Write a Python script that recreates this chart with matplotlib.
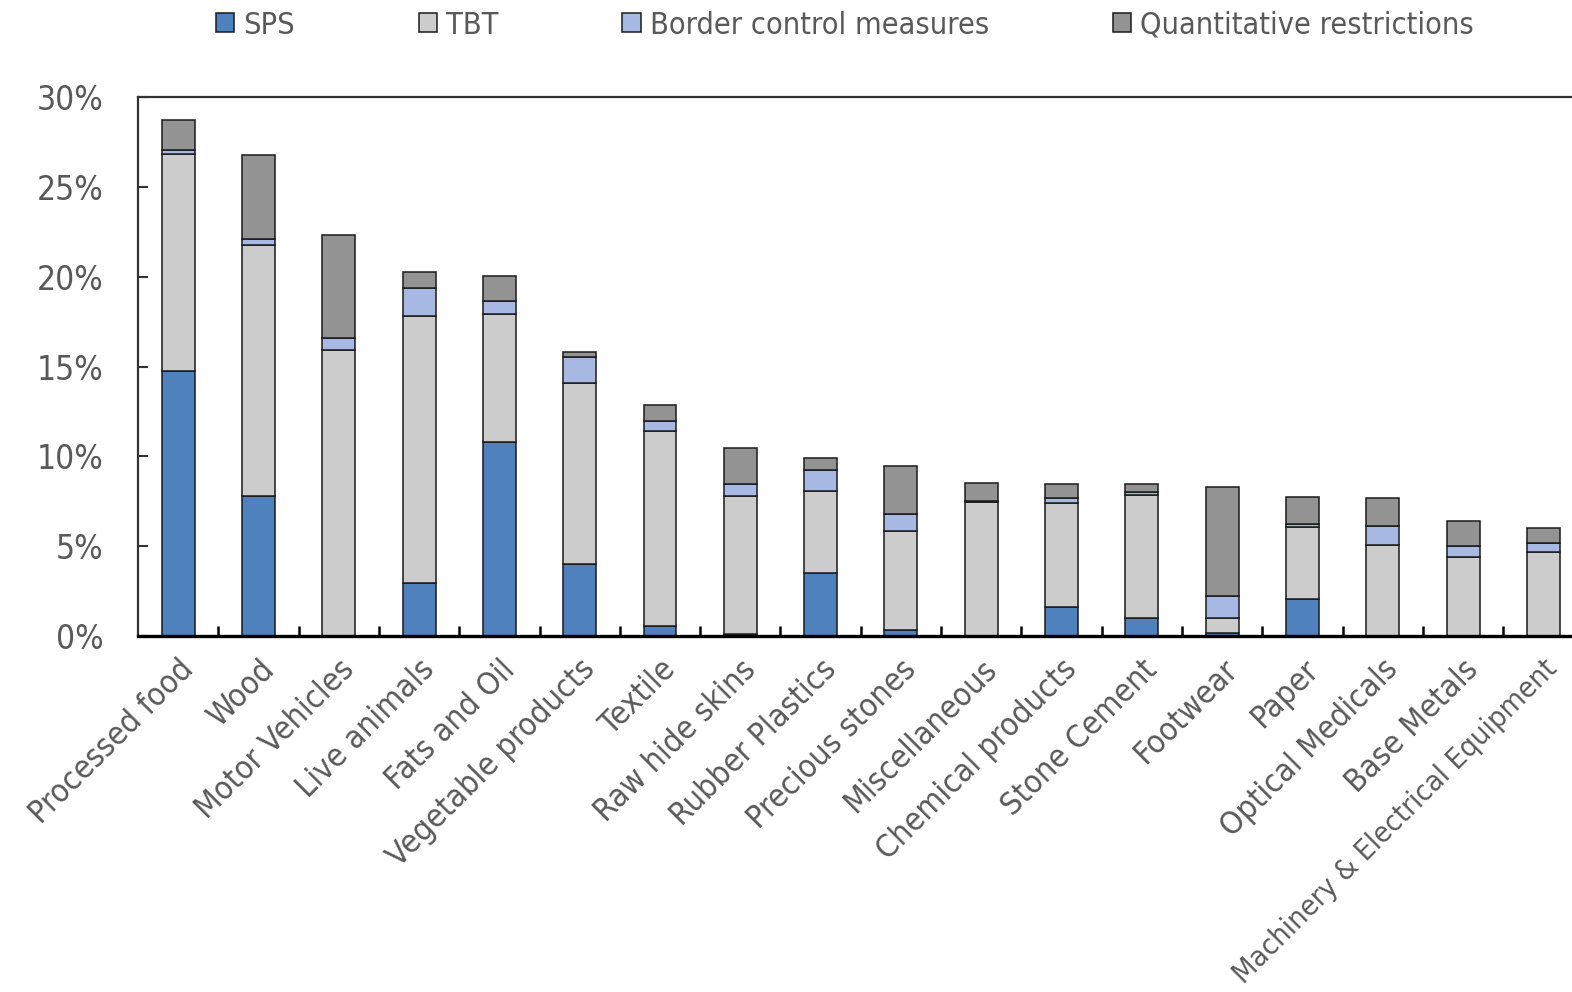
import matplotlib
matplotlib.use("Agg")
import matplotlib.pyplot as plt
import numpy as np

plt.rcParams['font.family'] = ['DejaVu Sans']
plt.rcParams['font.stretch'] = 'condensed'

categories = ["Processed food", "Wood", "Motor Vehicles", "Live animals", "Fats and Oil",
              "Vegetable products", "Textile", "Raw hide skins", "Rubber Plastics",
              "Precious stones", "Miscellaneous", "Chemical products", "Stone Cement",
              "Footwear", "Paper", "Optical Medicals", "Base Metals",
              "Machinery & Electrical Equipment"]

sps = [14.74, 7.82, 0.00, 2.96, 10.77, 4.02, 0.55, 0.10, 3.52, 0.35, 0.00, 1.59, 1.01, 0.18, 2.07, 0.00, 0.00, 0.00]
tbt = [12.07, 13.94, 15.90, 14.85, 7.13, 10.06, 10.84, 7.71, 4.54, 5.52, 7.46, 5.79, 6.85, 0.83, 3.99, 5.09, 4.39, 4.70]
border = [0.26, 0.33, 0.70, 1.54, 0.76, 1.44, 0.57, 0.66, 1.17, 0.91, 0.05, 0.31, 0.17, 1.24, 0.16, 1.06, 0.61, 0.45]
quant = [1.66, 4.66, 5.72, 0.93, 1.37, 0.28, 0.91, 1.97, 0.65, 2.70, 1.02, 0.75, 0.41, 6.04, 1.49, 1.54, 1.39, 0.87]

series = [("SPS", sps, "#4F81BD"),
          ("TBT", tbt, "#CCCCCC"),
          ("Border control measures", border, "#A7B9E2"),
          ("Quantitative restrictions", quant, "#939393")]

text_color = "#595959"
fs = 22

fig = plt.figure(figsize=(15.72, 9.92), dpi=100)
ax = fig.add_axes([138 / 1572, 1 - 636 / 992, 1445.5 / 1572, 539 / 992])

x = np.arange(len(categories))
bottom = np.zeros(len(categories))
handles = []
for name, vals, color in series:
    vals = np.array(vals)
    b = ax.bar(x, vals, width=0.41, bottom=bottom, color=color,
               edgecolor="#1a1a1a", linewidth=1.1, label=name, zorder=3)
    handles.append(b)
    bottom += vals

ax.set_xlim(-0.5, len(categories) - 0.5)
ax.set_ylim(0, 30)
ax.set_yticks(np.arange(0, 31, 5))
ax.set_yticklabels([f"{v}%" for v in range(0, 31, 5)])
ax.tick_params(axis="y", direction="in", length=7, width=1.5, color="#333333",
               labelsize=24, labelcolor=text_color, pad=25)

ax.set_xticks(x)
ax.set_xticklabels(categories, rotation=45, ha="right", rotation_mode="anchor")
ax.set_xticks(x[:-1] + 0.5, minor=True)
ax.tick_params(axis="x", which="major", length=0, labelsize=23,
               labelcolor=text_color, pad=13)
ax.tick_params(axis="x", which="minor", direction="in", length=7, width=1.8,
               color="black")
# the longest category name is set a touch smaller so it stays on the canvas
ax.get_xticklabels()[-1].set_fontsize(21)

for side in ["left", "top"]:
    ax.spines[side].set_color("#333333")
    ax.spines[side].set_linewidth(1.6)
ax.spines["bottom"].set_color("black")
ax.spines["bottom"].set_linewidth(2.4)
ax.spines["bottom"].set_zorder(5)
ax.spines["right"].set_visible(False)

leg = fig.legend(handles=handles, loc="center", bbox_to_anchor=(845 / 1572, 1 - 25 / 992),
                 ncol=4, frameon=False, fontsize=fs, handlelength=0.6, handleheight=0.6,
                 handletextpad=0.3, columnspacing=4.05, borderpad=0)
for t in leg.get_texts():
    t.set_color(text_color)

fig.savefig("out.png", dpi=100)
